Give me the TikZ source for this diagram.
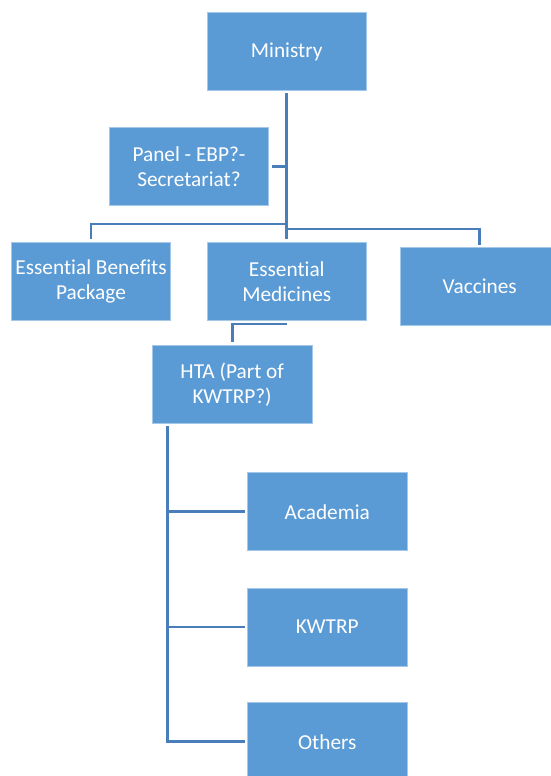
\documentclass[tikz,border=0pt]{standalone}
\usepackage{fontspec}
\setmainfont[Ligatures=NoCommon]{Carlito}
\definecolor{boxblue}{HTML}{5B9BD5}
\definecolor{linkblue}{HTML}{4A7EBB}
\begin{document}
\begin{tikzpicture}[x=1pt,y=-1pt,
  box/.style={fill=boxblue, draw=boxblue!55!white, line width=0.6pt, text=white, align=center,
    inner sep=0pt, minimum width=159.5pt, minimum height=78pt, font=\fontsize{21.3}{25}\selectfont},
  link/.style={draw=linkblue, line width=2.6pt}]
\useasboundingbox (0,0) rectangle (550,776);
\node[box] (min) at (286.75,51.7) {Ministry};
\node[box] (panel) at (189,166.7) {Panel - EBP?-\\Secretariat?};
\node[box] (ebp) at (91,281.7) {Essential Benefits\\Package};
\node[box] (em) at (286.75,281.7) {Essential\\Medicines};
\node[box] (vac) at (479.75,286.7) {Vaccines};
\node[box] (hta) at (232.2,384.3) {HTA (Part of\\KWTRP?)};
\node[box] (aca) at (327.3,511.7) {Academia};
\node[box] (kw) at (327.3,626.8) {KWTRP};
\node[box] (oth) at (327.3,741.7) {Others};
% connectors
\draw[link, shorten <=2pt, shorten >=3pt] (min.south) -- (em.north);
\draw[link, shorten <=3pt] (panel.east) -- (panel.east -| min.south);
\coordinate (ebpj) at (286.75,224);
\coordinate (vacj) at (286.75,229);
\draw[link, shorten >=3pt] (ebpj) -| (ebp.north);
\draw[link, shorten >=2.5pt] (vacj) -| (vac.north);
\coordinate (emb) at (286.75,324);
\draw[link, shorten >=3pt] (emb) -| (hta.north);
\coordinate (htab) at (167.3,426);
\draw[link, shorten >=2.5pt] (htab) |- (oth.west);
\draw[link, shorten >=2.5pt] (htab |- aca.west) -- (aca.west);
\draw[link, shorten >=2.5pt] (htab |- kw.west) -- (kw.west);
\end{tikzpicture}
\end{document}
